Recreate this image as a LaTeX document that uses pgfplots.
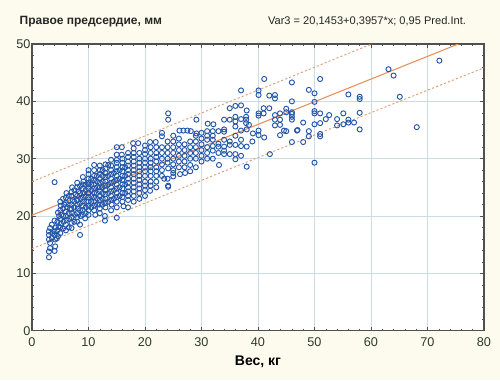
\documentclass[border=0pt]{standalone}
\usepackage{fontspec}
\setmainfont{Liberation Sans}
\usepackage{pgfplots}
\pgfplotsset{compat=1.18}
\definecolor{bgc}{HTML}{FDFBEE}
\definecolor{gridc}{HTML}{CCDCE4}
\definecolor{axc}{HTML}{505050}
\definecolor{lblc}{HTML}{2E3A2E}
\definecolor{mkc}{HTML}{2456A8}
\definecolor{regc}{HTML}{E8905A}
\definecolor{pic}{HTML}{D9A07A}
\begin{document}
\begin{tikzpicture}
\fill[bgc] (-24pt,-37pt) rectangle (351pt,248pt);
\begin{axis}[
  at={(0,0)}, anchor=south west, scale only axis,
  width=339pt, height=215pt,
  xmin=0, xmax=80, ymin=0, ymax=50,
  xtick={0,10,...,80}, ytick={0,10,...,50},
  minor x tick num=4, minor y tick num=4,
  tick align=inside, major tick length=3pt, minor tick length=1.5pt,
  grid=major, major grid style={draw=gridc, line width=0.5pt},
  axis line style={draw=axc, line width=0.8pt},
  every tick/.style={draw=axc, line width=0.4pt},
  axis background/.style={fill=white},
  ticklabel style={font=\fontsize{9.5}{10}\selectfont, text=lblc},
  yticklabel style={inner xsep=1pt},
  xticklabel style={yshift=-1.5pt},
  /pgf/number format/assume math mode=true,
  xlabel={Вес, кг},
  xlabel style={font=\bfseries\fontsize{10.5}{12}\selectfont, text=black, at={(axis description cs:0.5,0)}, anchor=center, yshift=-23.5pt},
]
\addplot[only marks, mark=o, mark size=1.9pt, mark options={draw=mkc, line width=0.7pt}] coordinates {
(3,12.8)(3,13.8)(3.2,14.4)(3.2,15.3)(3,15.9)(3,16.7)(3,17.3)(3.2,17.9)
(3.5,16.2)(3.6,17.0)(3.5,18.5)
(4,13.9)(4.1,14.7)(4.1,15.9)(4.4,16.1)(4,16.7)(4,17.3)(4.2,18.0)(4,19.2)(4,25.9)
(4.6,16.5)(4.5,17.5)(4.7,18.2)(4.5,19.0)(4.8,20.0)(4.6,20.6)
(5,17.0)(5,18.0)(5.1,18.7)(5,19.5)(5.2,20.2)(5,21.0)(5.1,21.8)(5,22.5)
(5.5,17.8)(5.6,19.0)(5.5,20.0)(5.5,21.3)(5.7,22.0)(5.5,23.0)
(6,17.5)(6,18.5)(6.1,19.3)(6,20.0)(6,20.8)(6.2,21.5)(6,22.3)(6,23.2)(6.1,24.0)
(6.5,18.0)(6.6,19.5)(6.5,20.5)(6.7,21.2)(6.5,22.0)(6.5,23.5)
(7,17.9)(7,18.8)(7,19.8)(7.1,20.5)(7,21.2)(7,22.0)(7.2,22.8)(7,23.5)(7,24.2)(7.1,25.0)
(7.5,19.0)(7.6,20.2)(7.5,21.5)(7.5,22.5)(7.7,23.8)(7.5,24.5)
(8.5,16.7)(8,19.0)(8,19.8)(8,20.5)(8.1,21.3)(8,22.0)(8,22.8)(8,23.5)(8.2,24.3)(8,25.0)(8,25.8)
(8.5,18.5)(8.6,20.0)(8.5,21.0)(8.5,22.2)(8.6,23.0)(8.5,24.0)(8.5,25.2)
(9.4,19.6)(9,20.2)(9,21.0)(9,21.8)(9,22.5)(9,23.3)(9.1,24.0)(9,24.8)(9,25.5)(9.1,26.0)(9,26.8)
(9.5,20.5)(9.5,21.5)(9.6,22.5)(9.5,23.5)(9.5,24.5)(9.5,25.5)
(10,20.2)(10,21.0)(10,21.8)(10,22.5)(10,23.3)(10,24.0)(10,24.8)(10,25.5)(10,25.8)(10,26.5)(10,27.3)(10,28.0)
(10.5,21.5)(10.5,22.5)(10.5,23.5)(10.5,24.5)(10.5,25.5)(10.5,26.5)
(11.2,20.2)(11,21.0)(11,21.8)(11,22.5)(11,23.3)(11,24.0)(11,24.8)(11,25.5)(11,26.3)(11,27.0)(11,28.0)(11,28.9)
(11.5,22.0)(11.5,23.0)(11.5,24.0)(11.5,25.0)(11.5,26.0)(11.5,27.0)
(12,20.5)(12,21.3)(12,22.0)(12,22.8)(12,23.5)(12,24.3)(12,25.0)(12,25.8)(12,26.5)(12,27.3)(12,28.0)(12,28.8)
(12.5,22.0)(12.5,23.0)(12.5,24.0)(12.5,25.0)(12.5,26.0)(12.5,27.0)(12.5,28.0)
(12.9,19.2)(12.9,20.0)(13,21.5)(13,22.3)(13,23.0)(13,23.8)(13,24.5)(13,25.3)(13,26.0)(13,26.8)(13,27.5)(13,28.3)(13,29.0)
(13.5,22.5)(13.5,24.0)(13.5,25.5)(13.5,27.0)(13.5,28.9)
(14,21.0)(14.1,22.0)(14,22.8)(14,23.5)(14,24.3)(14,25.0)(14,25.8)(14,26.5)(14,27.3)(14,28.0)(14,28.8)(14,29.8)
(14.5,23.0)(14.5,24.5)(14.5,26.0)(14.5,27.5)
(15,19.7)(15,21.5)(15,22.5)(15,23.3)(15,24.0)(15,24.8)(15,25.5)(15,26.3)(15,27.0)(15,27.8)(15,28.5)(15,29.3)(15,29.8)(15,30.7)(15,32.0)
(15.5,23.5)(15.5,25.0)(15.5,26.5)(15.5,28.0)
(16.2,21.7)(16,22.5)(16,23.3)(16,24.0)(16,24.8)(16,25.5)(16,26.3)(16,27.0)(16,27.8)(16,28.5)(16,29.3)(16,30.0)(15.9,30.7)(15.9,32.0)
(16.5,24.0)(16.5,25.5)(16.5,27.0)(16.5,28.5)
(17,21.5)(17,22.8)(17,23.5)(17,24.3)(17,25.0)(17,25.8)(17,26.5)(17,27.3)(17,28.0)(17,28.8)(17,29.5)(17,30.3)(17,31.0)
(18,22.5)(18,23.5)(18,24.3)(18,25.0)(18,25.8)(18,26.5)(18,27.3)(18,28.0)(18,28.8)(18,29.5)(18,30.3)(18,31.0)(18,31.8)(17.9,32.7)
(19,23.0)(19,24.0)(19,24.8)(19,25.5)(19,26.3)(19,27.0)(19,27.8)(19,28.5)(19,29.3)(19,30.0)(19,31.0)(18.8,32.7)
(20,23.5)(20,24.5)(20,25.3)(20,26.0)(20,27.0)(20,27.8)(20,28.5)(20,29.3)(20,30.0)(20,30.8)(20,31.5)(20,32.3)
(20.9,24.4)(21,25.3)(21,26.0)(21,27.0)(21,27.8)(21,28.5)(21,29.3)(21,30.0)(21,31.0)(21,32.0)(20.9,32.9)
(22,25.0)(22,26.0)(22,27.0)(22,27.8)(22,28.5)(22,29.5)(22,30.3)(22,31.0)(22,32.0)(21.9,32.9)
(23.4,26.5)(23,27.0)(23,28.0)(23,29.0)(23,30.0)(23,31.0)(23,32.0)(23,33.9)(23,34.5)
(24.1,25.1)(24.1,25.3)(24,26.5)(24.1,28.3)(24,29.3)(24,30.0)(24,31.0)(24,32.0)(24,33.0)(24.1,36.8)(24.1,37.9)
(25,26.9)(25,27.5)(25,28.0)(25,29.0)(25,30.0)(25,31.0)(25,32.0)(25,33.0)(25,34.0)
(26.2,27.3)(26,28.5)(26,29.5)(26,30.5)(26,31.5)(26,32.5)(26,33.5)(26.1,34.9)
(27.1,27.5)(27,28.5)(27,29.5)(27,30.5)(27,31.5)(27,32.5)(27.5,34.9)(26.8,34.9)
(28,27.8)(28,28.9)(28,30.0)(28,31.0)(28,32.0)(28,33.0)(28.1,34.8)
(29,28.5)(29,30.0)(29,31.0)(29,32.0)(29,33.0)(29,34.0)(29.1,34.4)(29.1,36.8)
(30,29.5)(30,30.5)(30,31.5)(30,32.5)(30,33.5)(30,34.5)
(31,30.0)(31,31.0)(31,32.0)(31,33.3)(31,34.0)(31,34.8)(31.1,36.1)
(32,30.0)(32,31.4)(32,32.2)(32,33.3)(32,34.0)(32,34.8)(32.1,36.0)
(33.1,28.9)(33,31.0)(33,32.1)(33,32.6)(33,34.8)
(34,30.8)(34,31.4)(34,32.1)(34,33.3)(34,34.7)(34,35.1)(34,36.8)
(35,30.8)(35,32.4)(35,33.0)(35,36.8)(35,38.8)
(36,29.9)(36,30.8)(36,32.4)(36,34.0)(36,35.6)(36,36.5)(36,37.3)(36,39.2)
(37,30.5)(37,32.2)(37,33.3)(37,34.9)(37,36.9)(37,39.3)(37,41.9)
(38,28.6)(38,32.1)(38,35.1)(38.4,35.9)(37.9,36.2)(37.9,36.8)(37.9,37.3)(38,38.4)
(39.1,34.4)(39,33.0)
(40.1,34.1)(40.1,34.9)(40.1,37.5)(40.1,37.9)(40.1,41.1)(40.1,41.9)
(41.1,33.7)(41,37.9)(41,38.8)(41.1,43.9)
(42.1,30.8)(42,38.8)(42,41.0)
(43,35.8)(43,36.8)(43,37.6)(43,40.5)(43,41.1)
(43.9,34.1)(43.9,35.9)(43.9,36.8)(43.9,37.9)
(45,34.8)(45,38.1)(45,38.7)(44.6,34.9)
(46,32.9)(46,36.8)(46,37.3)(46,37.8)(46,38.1)(46,40.0)(46,43.3)
(46.9,34.9)(47,35.0)
(48,32.9)(48,36.3)
(49,33.9)(49,34.8)(49,42.0)
(50,29.3)(50,36.0)(50,37.9)(50,38.3)(50,39.9)(50,41.4)
(51,33.9)(51,34.3)(51,36.2)(51,37.9)(51,43.9)
(52,36.9)(52.6,37.6)
(54,35.8)(54,36.9)
(55.1,36.0)(55.1,37.9)
(56,36.3)(56,36.8)(56,41.2)
(57,36.3)
(58,35.1)(58,38.0)(58,40.4)(58,40.8)
(63.1,45.6)(64,44.5)(65.1,40.8)(68.1,35.5)(72.1,47.1)
};
\addplot[draw=regc, line width=0.8pt] coordinates {(0,20.1453)(80,51.8013)};
\addplot[draw=pic, line width=0.7pt, dash pattern=on 1.6pt off 1.6pt] coordinates {(0,26.0)(40,41.95)(80,57.95)};
\addplot[draw=pic, line width=0.7pt, dash pattern=on 1.6pt off 1.6pt] coordinates {(0,14.3)(40,30.2)(80,45.85)};
\end{axis}
\node[anchor=west, font=\bfseries\fontsize{9}{10}\selectfont, text=black!85] at (-12.75pt,231.75pt) {Правое предсердие, мм};
\node[anchor=east, font=\fontsize{8.3}{10}\selectfont, text=black!85] at (329pt,231.75pt) {Var3 = 20,1453+0,3957*x; 0,95 Pred.Int.};
\end{tikzpicture}
\end{document}
